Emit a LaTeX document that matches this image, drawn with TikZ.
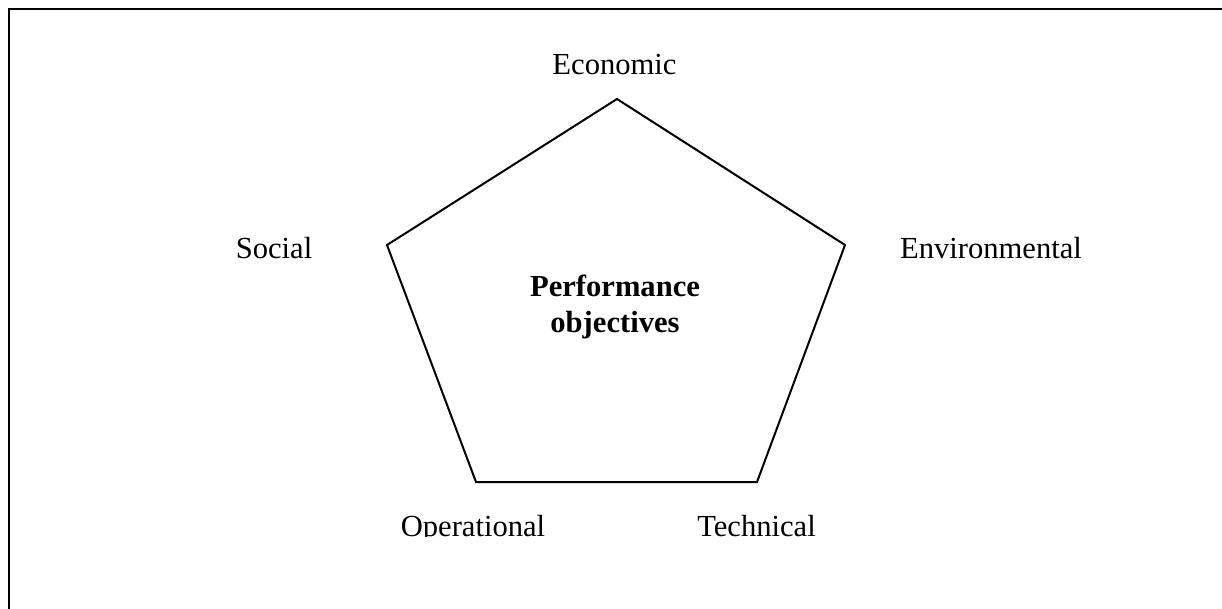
\documentclass[tikz,border=0pt]{standalone}
\usepackage{fontspec}
\setmainfont{Liberation Serif}
\begin{document}
\begin{tikzpicture}[x=1pt,y=-1pt,
  lbl/.style={inner sep=0pt,anchor=base,font=\fontsize{30.6}{35.2}\selectfont},
  centre/.style={lbl,font=\fontsize{30.6}{35}\selectfont\bfseries,align=center},
  edge/.style={line width=2pt,line join=miter}]
\useasboundingbox[fill=white] (0,0) rectangle (1222,609);

% frame: top and left rules
\coordinate (fr) at (1222,9);
\coordinate (fc) at (9,9);
\coordinate (fb) at (9,609);
\draw[line width=2.2pt] (fr) -- (fc) -- (fb);

% pentagon corners
\coordinate (pTop) at (617,99);
\coordinate (pRight) at (845,245);
\coordinate (pBR) at (757,482);
\coordinate (pBL) at (476,482);
\coordinate (pLeft) at (387,245);
\draw[edge] (pTop) -- (pRight) -- (pBR) -- (pBL) -- (pLeft) -- cycle;

% labels
\node[lbl] (eco) at (614.5,75) {Economic};
\node[lbl] (soc) at (274,258.3) {Social};
\node[lbl] (env) at (991,258.3) {Environmental};
\node[lbl] (perf) at (615,297) {\bfseries Performance};
\node[lbl] (obj) at (615,332) {\bfseries objectives};

\begin{scope}
  \clip (0,0) rectangle (1222,536.5);
  \node[lbl] (ope) at (473,536.5) {Operational};
  \node[lbl] (tec) at (756.5,536) {Technical};
\end{scope}
\end{tikzpicture}
\end{document}
